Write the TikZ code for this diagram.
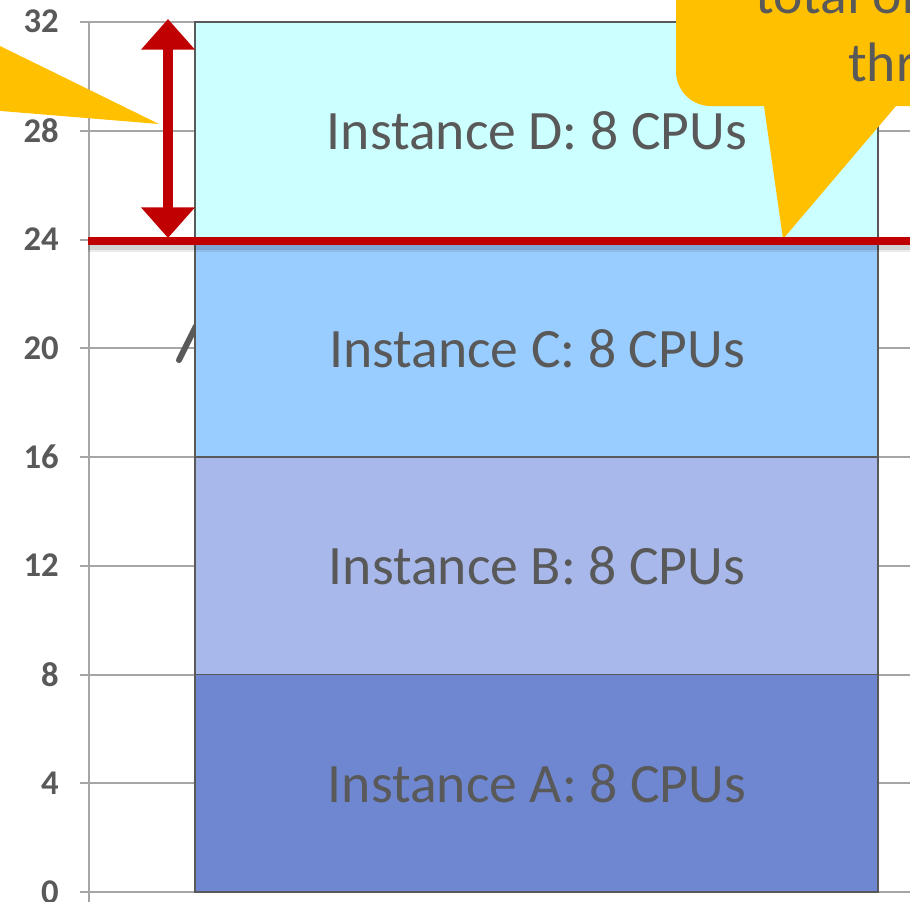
\documentclass[tikz,border=0pt]{standalone}
\usepackage{fontspec}
\setmainfont{Carlito}
\usetikzlibrary{arrows.meta}
\definecolor{cD}{HTML}{CCFFFF}
\definecolor{cC}{HTML}{99CCFF}
\definecolor{cB}{HTML}{A8B8EA}
\definecolor{cA}{HTML}{6F87D0}
\definecolor{txt}{HTML}{595959}
\definecolor{grid}{HTML}{A6A6A6}
\definecolor{callout}{HTML}{FFC000}
\definecolor{redline}{HTML}{C00000}
\tikzset{
  gridline/.style={draw=grid, line width=1.5pt},
  barbox/.style={draw=txt, line width=1.4pt},
  barlabel/.style={text=txt, inner sep=0pt, font=\fontsize{41.7}{50}\selectfont},
  axlabel/.style={text=txt, inner sep=0pt, anchor=east, font=\fontsize{26}{30}\selectfont\bfseries},
  calltext/.style={text=txt, inner sep=0pt, anchor=base west, font=\fontsize{41.7}{50}\selectfont},
}
\begin{document}
\begin{tikzpicture}[x=0.75pt,y=-0.75pt]
\useasboundingbox (0,0) rectangle (910,901);
\clip (0,0) rectangle (910,901);
% grid lines and axis labels
\foreach \v/\yy in {0/892,4/783.3,8/674.5,12/565.5,16/457,20/348,24/239.5,28/130.5,32/21.7}{
  \draw[gridline] (80,\yy) -- (910,\yy);
  \node[axlabel] (lab\v) at (59,\yy) {\v};
}
\coordinate (axtop) at (89,21.7);
\coordinate (axbot) at (89,905);
\draw[gridline] (axtop) -- (axbot);
% gray stroke partly hidden behind bar C
\coordinate (s1) at (179,360);
\coordinate (s2) at (196,326);
\draw[txt, line width=4.5pt, line cap=round] (s1) -- (s2);
% bars
\draw[barbox, fill=cA] (195,674.5) rectangle (878,892);
\draw[barbox, fill=cB] (195,457) rectangle (878,674.5);
\draw[barbox, fill=cC] (195,240) rectangle (878,457);
\draw[barbox, fill=cD] (195,21.7) rectangle (878,240);
\node[barlabel] (lA) at (537,783.3) {Instance A: 8 CPUs};
\node[barlabel] (lB) at (537,566) {Instance B: 8 CPUs};
\node[barlabel] (lC) at (537,348.5) {Instance C: 8 CPUs};
\node[barlabel] (lD) at (537,131) {Instance D: 8 CPUs};
% left callout tail
\fill[callout] (-5,43.5) -- (159,124) -- (-5,110.5) -- cycle;
% right callout
\fill[callout] (920,-60) -- (676,-60) [rounded corners=26pt] -- (676,106) [sharp corners] -- (764,106) -- (783,239) -- (896,106) -- (920,106) -- cycle;
\node[calltext] (t1) at (755,13) {total of};
\node[calltext] (t2) at (848,81) {thr};
% red threshold line with shadow
\coordinate (rl) at (88,241);
\coordinate (rr) at (915,241);
\draw[black, opacity=0.10, line width=6pt] ([yshift=-4pt]rl) -- ([yshift=-4pt]rr);
\draw[black, opacity=0.08, line width=9pt] ([yshift=-4pt]rl) -- ([yshift=-4pt]rr);
\draw[redline, line width=5.8pt] (rl) -- (rr);
% double arrow
\coordinate (atop) at (168,19);
\coordinate (abot) at (168,238);
\draw[redline, line width=7.5pt, {Triangle[width=39pt,length=23pt]}-{Triangle[width=39pt,length=23pt]}] (atop) -- (abot);
\end{tikzpicture}
\end{document}
